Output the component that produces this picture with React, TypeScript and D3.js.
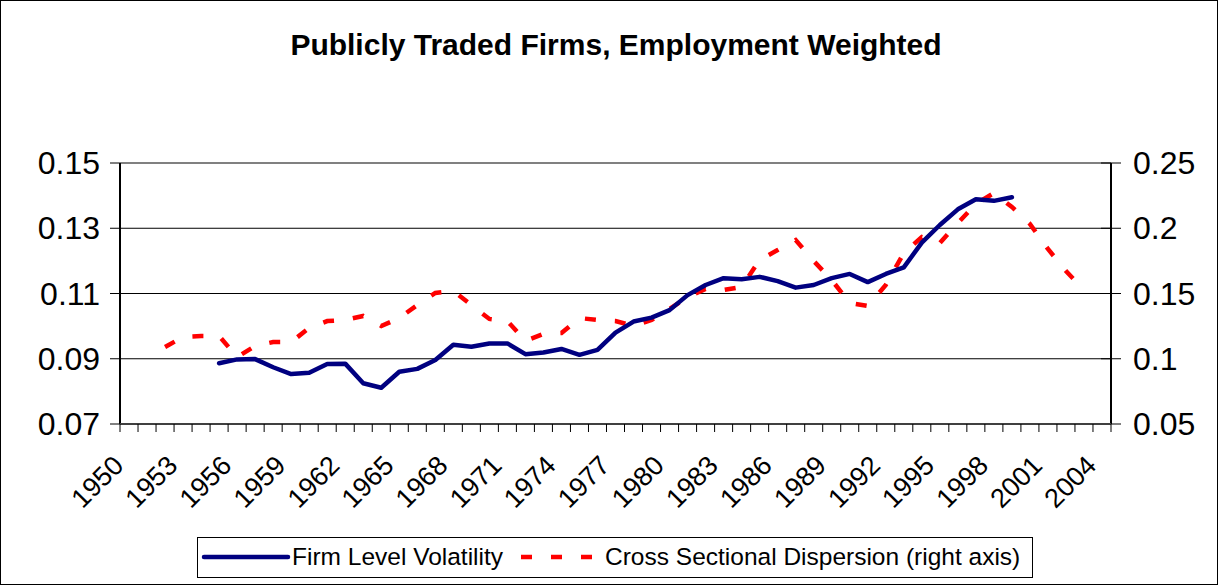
import * as d3 from 'd3'

const YEARS = [
  1950, 1951, 1952, 1953, 1954, 1955, 1956, 1957, 1958, 1959,
  1960, 1961, 1962, 1963, 1964, 1965, 1966, 1967, 1968, 1969,
  1970, 1971, 1972, 1973, 1974, 1975, 1976, 1977, 1978, 1979,
  1980, 1981, 1982, 1983, 1984, 1985, 1986, 1987, 1988, 1989,
  1990, 1991, 1992, 1993, 1994, 1995, 1996, 1997, 1998, 1999,
  2000, 2001, 2002, 2003, 2004,
]
const TICK_LABEL_YEARS = [1950, 1953, 1956, 1959, 1962, 1965, 1968, 1971, 1974, 1977, 1980, 1983, 1986, 1989, 1992, 1995, 1998, 2001, 2004]

// firm level volatility (left axis), 1955-1999
const VOL_START = 1955
const VOLATILITY = [
  0.0886, 0.0898, 0.0899, 0.0874, 0.0853, 0.0857, 0.0884, 0.0885, 0.0825, 0.0811,
  0.0860, 0.0869, 0.0896, 0.0943, 0.0937, 0.0947, 0.0947, 0.0914, 0.0919, 0.0930,
  0.0912, 0.0927, 0.0980, 0.1014, 0.1026, 0.1049, 0.1095, 0.1126, 0.1147, 0.1144,
  0.1151, 0.1138, 0.1118, 0.1126, 0.1147, 0.1160, 0.1135, 0.1160, 0.1180, 0.1256,
  0.1310, 0.1358, 0.1389, 0.1384, 0.1395,
]

// cross sectional dispersion (right axis), 1952-2003
const DISP_START = 1952
const DISPERSION = [
  0.1090, 0.1167, 0.1174, 0.1174, 0.1013, 0.1098, 0.1128, 0.1128, 0.1236, 0.1289,
  0.1297, 0.1328, 0.1251, 0.1312, 0.1412, 0.1504, 0.1519, 0.1412, 0.1305, 0.1289,
  0.1136, 0.1190, 0.1197, 0.1312, 0.1297, 0.1289, 0.1251, 0.1297, 0.1381, 0.1473,
  0.1534, 0.1527, 0.1550, 0.1757, 0.1833, 0.1910, 0.1749, 0.1603, 0.1427, 0.1404,
  0.1565, 0.1810, 0.1933, 0.1887, 0.2040, 0.2186, 0.2270, 0.2163, 0.2033, 0.1841,
  0.1672, 0.1527,
]

const LEFT_TICKS = [0.07, 0.09, 0.11, 0.13, 0.15]
const RIGHT_TICKS = [0.05, 0.1, 0.15, 0.2, 0.25]

const W = 1219
const H = 586
const FONT = '"Liberation Sans", Arial, sans-serif'
const BLUE = '#000080'
const RED = '#ff0000'
const DASH = '11 19'

export default function App() {
  const plot = { left: 120, right: 1111, top: 163, bottom: 424 }

  const x = d3.scaleBand<number>().domain(YEARS).range([plot.left, plot.right]).padding(0)
  const cx = (yr: number) => (x(yr) ?? 0) + x.bandwidth() / 2
  const yL = d3.scaleLinear().domain([0.07, 0.15]).range([plot.bottom, plot.top])
  const yR = d3.scaleLinear().domain([0.05, 0.25]).range([plot.bottom, plot.top])

  const volPts = VOLATILITY.map((v, i) => [cx(VOL_START + i), yL(v)] as [number, number])
  const dispPts = DISPERSION.map((v, i) => [cx(DISP_START + i), yR(v)] as [number, number])
  const line = d3.line()

  const boundaries = YEARS.map((yr) => x(yr) ?? 0).concat([plot.right])

  return (
    <svg width={W} height={H} style={{ position: 'absolute', left: 0, top: 0, background: '#fff' }}>
      <rect x={0.5} y={0.5} width={W - 2} height={H - 2} fill="#fff" stroke="#000" strokeWidth={1} />

      <text x={616} y={55} textAnchor="middle" fontFamily={FONT} fontWeight="bold" fontSize={30}>
        Publicly Traded Firms, Employment Weighted
      </text>

      {/* gridlines */}
      {LEFT_TICKS.slice(1, -1).map((t) => (
        <line key={t} x1={plot.left} x2={plot.right} y1={yL(t)} y2={yL(t)} stroke="#000" strokeWidth={1} />
      ))}
      <line x1={plot.left} x2={plot.right} y1={plot.top} y2={plot.top} stroke="#808080" strokeWidth={2} />

      {/* left axis */}
      <line x1={plot.left} x2={plot.left} y1={plot.top} y2={plot.bottom} stroke="#000" strokeWidth={2} />
      {LEFT_TICKS.map((t) => (
        <g key={t}>
          <line x1={plot.left - 10} x2={plot.left} y1={yL(t)} y2={yL(t)} stroke="#000" strokeWidth={1} />
          <text x={100} y={yL(t) + 11} textAnchor="end" fontFamily={FONT} fontSize={32}>
            {d3.format('.2f')(t)}
          </text>
        </g>
      ))}

      {/* right axis */}
      <line x1={plot.right} x2={plot.right} y1={plot.top} y2={plot.bottom} stroke="#000" strokeWidth={2} />
      {RIGHT_TICKS.map((t) => (
        <g key={t}>
          <line x1={plot.right - 10} x2={plot.right + 10} y1={yR(t)} y2={yR(t)} stroke="#000" strokeWidth={1} />
          <text x={1133} y={yR(t) + 11} textAnchor="start" fontFamily={FONT} fontSize={32}>
            {String(+t.toFixed(2))}
          </text>
        </g>
      ))}

      {/* bottom axis */}
      <line x1={plot.left} x2={plot.right} y1={plot.bottom} y2={plot.bottom} stroke="#404040" strokeWidth={2} />
      {boundaries.map((bx, i) => (
        <line key={i} x1={bx} x2={bx} y1={plot.bottom} y2={plot.bottom + 8} stroke="#000" strokeWidth={1} />
      ))}
      {TICK_LABEL_YEARS.map((yr) => (
        <text
          key={yr}
          transform={`translate(${cx(yr) - 4},${467}) rotate(-45)`}
          textAnchor="end"
          fontFamily={FONT}
          fontSize={27}
        >
          {yr}
        </text>
      ))}

      {/* series */}
      <path d={line(dispPts) ?? ''} fill="none" stroke={RED} strokeWidth={4.5} strokeDasharray={DASH} />
      <path d={line(volPts) ?? ''} fill="none" stroke={BLUE} strokeWidth={4.5} strokeLinejoin="round" strokeLinecap="round" />

      {/* legend */}
      <rect x={197.5} y={537.5} width={835} height={40} fill="#fff" stroke="#000" strokeWidth={1} />
      <line x1={204} x2={288} y1={557} y2={557} stroke={BLUE} strokeWidth={4.5} strokeLinecap="round" />
      <text x={292} y={565} fontFamily={FONT} fontSize={24.5}>Firm Level Volatility</text>
      <line x1={521} x2={596} y1={557} y2={557} stroke={RED} strokeWidth={4.5} strokeDasharray={DASH} />
      <text x={605} y={565} fontFamily={FONT} fontSize={24.5}>Cross Sectional Dispersion (right axis)</text>
    </svg>
  )
}
